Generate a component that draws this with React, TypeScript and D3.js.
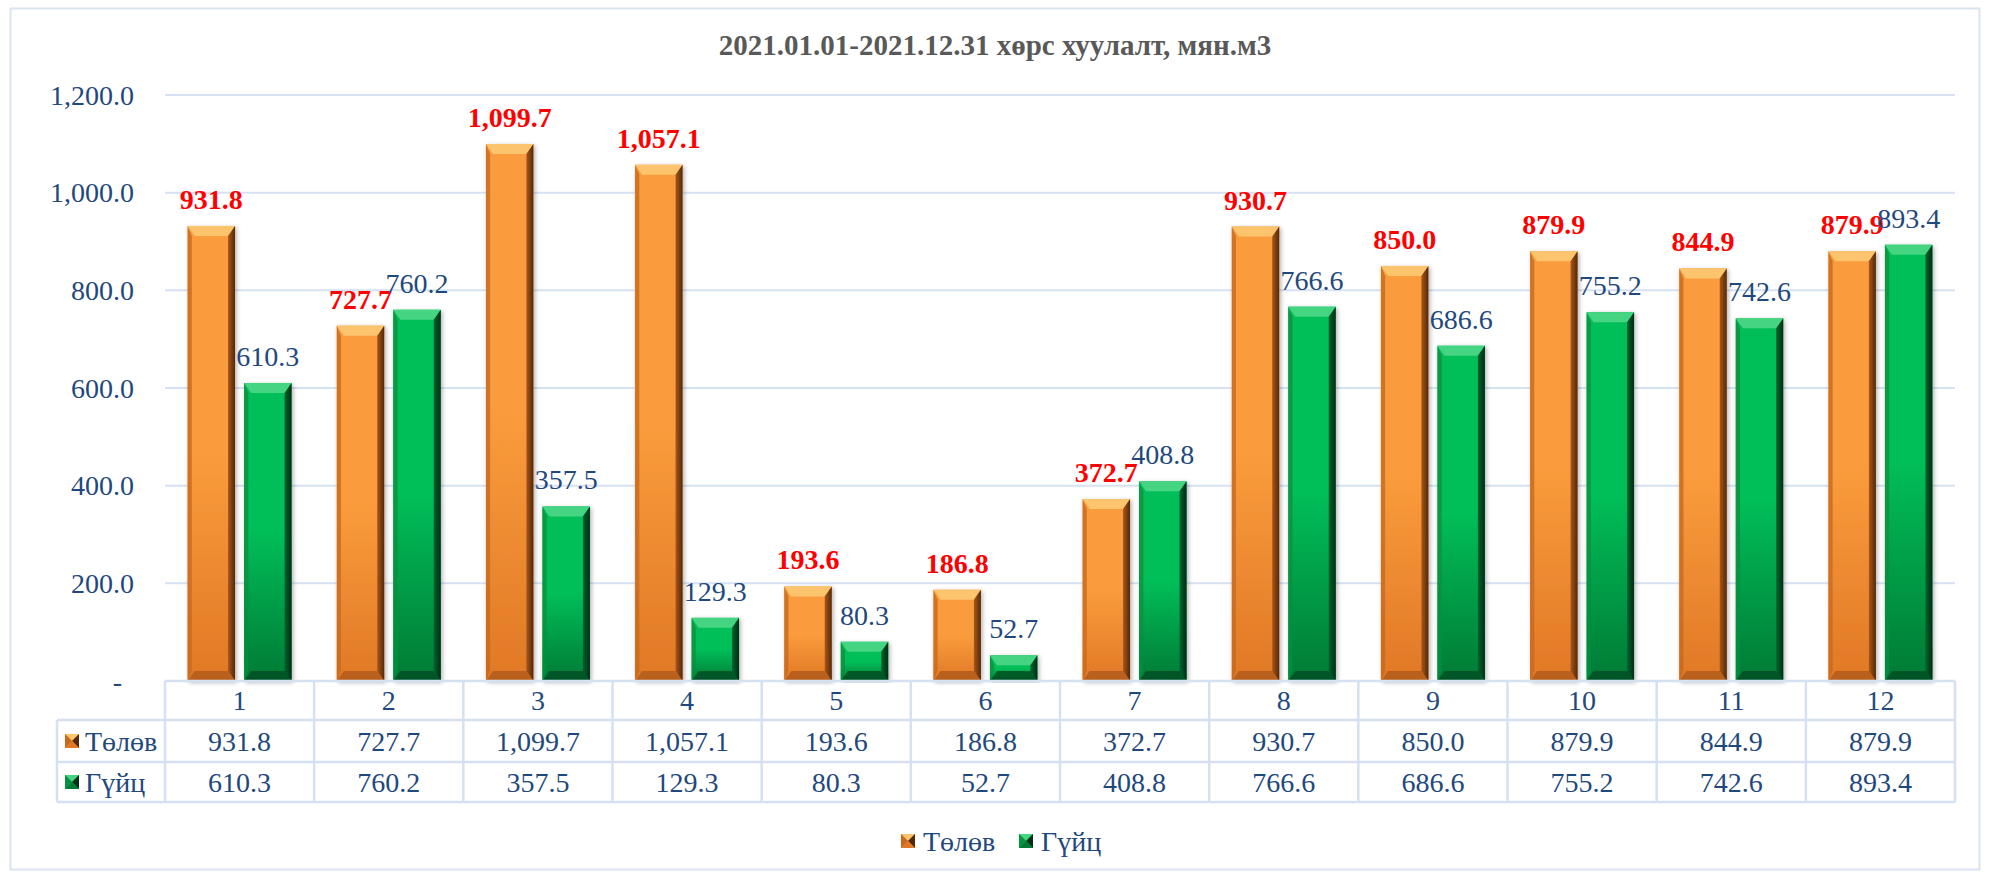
import React from "react";
import * as d3 from "d3";

const categories = ["1", "2", "3", "4", "5", "6", "7", "8", "9", "10", "11", "12"];
const seriesNames = ["Төлөв", "Гүйц"];
const tolov = [931.8, 727.7, 1099.7, 1057.1, 193.6, 186.8, 372.7, 930.7, 850.0, 879.9, 844.9, 879.9];
const guits = [610.3, 760.2, 357.5, 129.3, 80.3, 52.7, 408.8, 766.6, 686.6, 755.2, 742.6, 893.4];
const yTicks = [0, 200, 400, 600, 800, 1000, 1200];
const title = "2021.01.01-2021.12.31 хөрс хуулалт, мян.м3";

const W = 1990;
const H = 877;
const FONT = "'Liberation Serif', 'Times New Roman', serif";
const NAVY = "#1f497d";
const GRID = "#d6e2f3";

const palettes = [
  { id: "o", top: "#fa9c3c", bottom: "#e07826", light: "#fcc46c", left: "#c8691d", right1: "#a9561a", right2: "#52290a", bot: "#b25c1a" },
  { id: "g", top: "#06be58", bottom: "#037a35", light: "#45d582", left: "#07903f", right1: "#05632a", right2: "#012e16", bot: "#034f22" },
];

function Bar({ x, y, w, h, p }: { x: number; y: number; w: number; h: number; p: any }) {
  const b = Math.min(10, h / 2);
  const r = Math.min(7, w / 4);
  return (
    <g filter="url(#shadow)">
      <rect x={x} y={y} width={w} height={h} fill={`url(#face-${p.id})`} />
      <polygon points={`${x},${y} ${x + w},${y} ${x + w - r},${y + b} ${x + r},${y + b}`} fill={p.light} />
      <polygon points={`${x},${y} ${x + r * 0.6},${y + b} ${x + r * 0.6},${y + h - b} ${x},${y + h}`} fill={p.left} opacity={0.8} />
      <polygon points={`${x + w},${y} ${x + w - r},${y + b} ${x + w - r},${y + h - b} ${x + w},${y + h}`} fill={`url(#right-${p.id})`} />
      <polygon points={`${x},${y + h} ${x + r},${y + h - b} ${x + w - r},${y + h - b} ${x + w},${y + h}`} fill={p.bot} opacity={0.85} />
    </g>
  );
}

function Key({ x, y, s, p }: { x: number; y: number; s: number; p: any }) {
  const c = s / 2;
  return (
    <g>
      <rect x={x} y={y} width={s} height={s} fill={p.top} />
      <polygon points={`${x},${y} ${x + s},${y} ${x + c},${y + c}`} fill={p.light} />
      <polygon points={`${x + s},${y} ${x + s},${y + s} ${x + c},${y + c}`} fill={p.right2} />
      <polygon points={`${x},${y + s} ${x + s},${y + s} ${x + c},${y + c}`} fill={p.bottom} />
      <polygon points={`${x},${y} ${x},${y + s} ${x + c},${y + c}`} fill={p.left} />
    </g>
  );
}

export default function App() {
  const left = 165;
  const right = 1955;
  const x0 = d3.scaleBand<string>().domain(categories).range([left, right]).paddingInner(0).paddingOuter(0);
  const x1 = d3.scaleBand<string>().domain(seriesNames).range([0, x0.bandwidth()]).paddingInner(0.16).paddingOuter(0.4);
  const y = d3.scaleLinear().domain([0, 1200]).range([681, 95]);
  const fmt = d3.format(",.1f");
  const series = [tolov, guits];

  const rowTop = 681;
  const rowB = [681, 720, 762, 802];
  const legendLeft = 57;

  return (
    <svg width={W} height={H} style={{ position: "absolute", left: 0, top: 0, background: "#fff" }} fontFamily={FONT}>
      <defs>
        {palettes.map((p) => (
          <React.Fragment key={p.id}>
            <linearGradient id={`face-${p.id}`} x1="0" y1="0" x2="0" y2="1">
              <stop offset="0" stopColor={p.top} />
              <stop offset="0.5" stopColor={p.top} />
              <stop offset="1" stopColor={p.bottom} />
            </linearGradient>
            <linearGradient id={`right-${p.id}`} x1="0" y1="0" x2="1" y2="0">
              <stop offset="0" stopColor={p.right1} />
              <stop offset="1" stopColor={p.right2} />
            </linearGradient>
          </React.Fragment>
        ))}
        <filter id="shadow" x="-20%" y="-5%" width="140%" height="110%">
          <feDropShadow dx="1.5" dy="1.5" stdDeviation="2" floodColor="#000" floodOpacity="0.3" />
        </filter>
      </defs>
      <rect x={0} y={0} width={W} height={H} fill="#fff" />
      <rect x={10.5} y={8.5} width={1969} height={861} fill="none" stroke="#d9e3f2" strokeWidth={2} />

      <text x={W / 2} y={55} textAnchor="middle" fontWeight="bold" fontSize={29} fill="#595959">
        {title}
      </text>

      {yTicks.filter((t) => t > 0).map((t) => (
        <line key={t} x1={left} x2={right} y1={y(t)} y2={y(t)} stroke={GRID} strokeWidth={2} />
      ))}
      {yTicks.map((t) => (
        <text key={t} x={t === 0 ? 122 : 134} y={y(t)} dy="0.35em" textAnchor="end" fontSize={28} fill={NAVY}>
          {t === 0 ? "-" : fmt(t)}
        </text>
      ))}

      {categories.map((c, i) => (
        <g key={c}>
          {series.map((vals, s) => {
            const bx = (x0(c) as number) + (x1(seriesNames[s]) as number);
            const bw = x1.bandwidth();
            const by = y(vals[i]);
            return <Bar key={s} x={bx} y={by} w={bw} h={y(0) - by} p={palettes[s]} />;
          })}
        </g>
      ))}
      {categories.map((c, i) => (
        <g key={"l" + c}>
          {series.map((vals, s) => {
            const bx = (x0(c) as number) + (x1(seriesNames[s]) as number) + x1.bandwidth() / 2;
            return (
              <text
                key={s}
                x={bx}
                y={y(vals[i]) - 17}
                textAnchor="middle"
                fontSize={28}
                fontWeight={s === 0 ? "bold" : "normal"}
                fill={s === 0 ? "#ff0000" : NAVY}
              >
                {fmt(vals[i])}
              </text>
            );
          })}
        </g>
      ))}

      {/* data table */}
      <g stroke="#d5e0f1" strokeWidth={2.5} fill="none">
        <line x1={left} x2={right} y1={rowB[0]} y2={rowB[0]} />
        <line x1={legendLeft} x2={right} y1={rowB[1]} y2={rowB[1]} />
        <line x1={legendLeft} x2={right} y1={rowB[2]} y2={rowB[2]} />
        <line x1={legendLeft} x2={right} y1={rowB[3]} y2={rowB[3]} />
        <line x1={legendLeft} x2={legendLeft} y1={rowB[1]} y2={rowB[3]} />
        {categories.map((c) => (
          <line key={c} x1={x0(c) as number} x2={x0(c) as number} y1={rowTop} y2={rowB[3]} />
        ))}
        <line x1={right} x2={right} y1={rowTop} y2={rowB[3]} />
      </g>
      {categories.map((c, i) => {
        const cx = (x0(c) as number) + x0.bandwidth() / 2;
        return (
          <g key={"t" + c} fontSize={28} fill={NAVY} textAnchor="middle">
            <text x={cx} y={(rowB[0] + rowB[1]) / 2} dy="0.35em">{c}</text>
            <text x={cx} y={(rowB[1] + rowB[2]) / 2} dy="0.35em">{fmt(tolov[i])}</text>
            <text x={cx} y={(rowB[2] + rowB[3]) / 2} dy="0.35em">{fmt(guits[i])}</text>
          </g>
        );
      })}
      {seriesNames.map((n, s) => {
        const cy = (rowB[s + 1] + rowB[s + 2]) / 2;
        return (
          <g key={n}>
            <Key x={65} y={cy - 7} s={14} p={palettes[s]} />
            <text x={85} y={cy} dy="0.35em" fontSize={28} fill={NAVY}>{n}</text>
          </g>
        );
      })}

      {/* legend */}
      {seriesNames.map((n, s) => {
        const lx = s === 0 ? 901 : 1019;
        return (
          <g key={"lg" + n}>
            <Key x={lx} y={834} s={14} p={palettes[s]} />
            <text x={lx + 22} y={841} dy="0.35em" fontSize={28} fill={NAVY}>{n}</text>
          </g>
        );
      })}
    </svg>
  );
}
